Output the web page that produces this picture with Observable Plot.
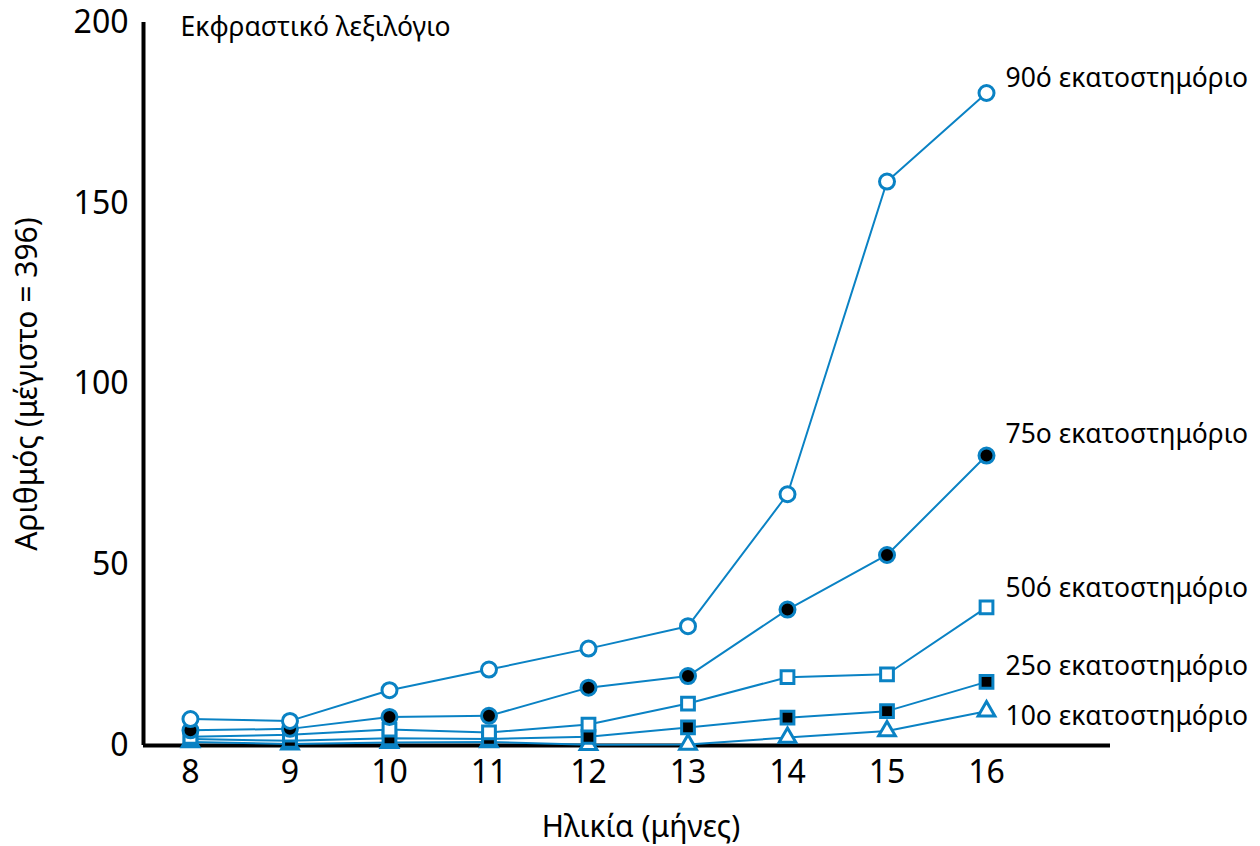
<!DOCTYPE html>
<html>
<head>
<meta charset="utf-8">
<script src="https://cdn.jsdelivr.net/npm/d3@7"></script>
<script src="https://cdn.jsdelivr.net/npm/@observablehq/plot@0.6"></script>
<style>
  html, body { margin: 0; padding: 0; background: #fff; }
</style>
</head>
<body>
<div id="chart"></div>
<script>
const ages = [8, 9, 10, 11, 12, 13, 14, 15, 16];
const p90 = [7.3, 6.8, 15.3, 21, 26.8, 33, 69.5, 156, 180.5];
const p75 = [4.2, 4.6, 7.9, 8.2, 16, 19.2, 37.6, 52.7, 80.2];
const p50 = [2.4, 3.0, 4.4, 3.6, 5.8, 11.6, 18.9, 19.7, 38.2];
const p25 = [1.8, 1.3, 2.0, 1.8, 2.4, 5.0, 7.7, 9.5, 17.6];
const p10 = [1.0, 0.4, 0.8, 1.0, 0.2, 0.3, 2.2, 4.0, 9.5];
const seriesNames = ["90ό εκατοστημόριο", "75ο εκατοστημόριο", "50ό εκατοστημόριο", "25ο εκατοστημόριο", "10ο εκατοστημόριο"];
const yTicks = [0, 50, 100, 150, 200];
const xTicks = [8, 9, 10, 11, 12, 13, 14, 15, 16];
const title = "Εκφραστικό λεξιλόγιο";
const xLabel = "Ηλικία (μήνες)";
const yLabel = "Αριθμός (μέγιστο = 396)";

const BLUE = "#0a82c4";
const values = [p90, p75, p50, p25, p10];
const styles = [
  {symbol: "circle", fill: "white", r: 7.5, dy: -14},
  {symbol: "circle", fill: "black", r: 7.5, dy: -21},
  {symbol: "square", fill: "white", r: 7.2, dy: -19},
  {symbol: "square", fill: "black", r: 7.2, dy: -15},
  {symbol: "triangle", fill: "white", r: 6.2, dy: 5}
];
const table = seriesNames.flatMap((name, i) => ages.map((a, j) => ({series: name, idx: i, age: a, value: values[i][j]})));

const marks = [];
// axis lines
marks.push(Plot.ruleY([0], {stroke: "black", strokeWidth: 4}));
marks.push(Plot.ruleX([7.528], {y1: 0, y2: 200, stroke: "black", strokeWidth: 4}));
// lines
seriesNames.forEach((name, i) => {
  marks.push(Plot.line(table.filter(d => d.idx === i), {x: "age", y: "value", stroke: BLUE, strokeWidth: 2}));
});
// markers (draw bottom series first)
for (let i = seriesNames.length - 1; i >= 0; i--) {
  const s = styles[i];
  marks.push(Plot.dot(table.filter(d => d.idx === i), {x: "age", y: "value", symbol: () => s.symbol, r: s.r, fill: s.fill, stroke: BLUE, strokeWidth: 3}));
}
// series labels
seriesNames.forEach((name, i) => {
  marks.push(Plot.text(table.filter(d => d.idx === i && d.age === 16), {x: "age", y: "value", text: "series", textAnchor: "start", dx: 19, dy: styles[i].dy, fontSize: 26.5, fill: "black"}));
});
// title
marks.push(Plot.text([title], {frameAnchor: "top-left", textAnchor: "start", lineAnchor: "middle", dx: 37, dy: 5, fontSize: 26.5, fill: "black"}));
marks.push(Plot.axisY({ticks: yTicks, tickSize: 0, tickPadding: 15, fontSize: 32, label: null}));
marks.push(Plot.axisX({ticks: xTicks, tickSize: 0, tickPadding: 15, fontSize: 32, tickFormat: d => String(d), label: null}));
marks.push(Plot.axisY({ticks: [], tickSize: 0, fontSize: 30, label: yLabel, labelAnchor: "center", labelArrow: "none", labelOffset: 128}));
// x axis title
marks.push(Plot.text([xLabel], {frameAnchor: "bottom", textAnchor: "middle", lineAnchor: "middle", dx: 14, dy: 82, fontSize: 30, fill: "black"}));

const chart = Plot.plot({
  width: 1260,
  height: 846,
  marginLeft: 143,
  marginRight: 150,
  marginTop: 22,
  marginBottom: 101,
  style: {fontFamily: "'Noto Sans', sans-serif", fontSize: "28px", background: "white", color: "black", overflow: "visible"},
  x: {domain: [7.528, 17.246]},
  y: {domain: [0, 200]},
  symbol: {type: "identity"},
  marks
});
document.getElementById("chart").appendChild(chart);
</script>
</body>
</html>
